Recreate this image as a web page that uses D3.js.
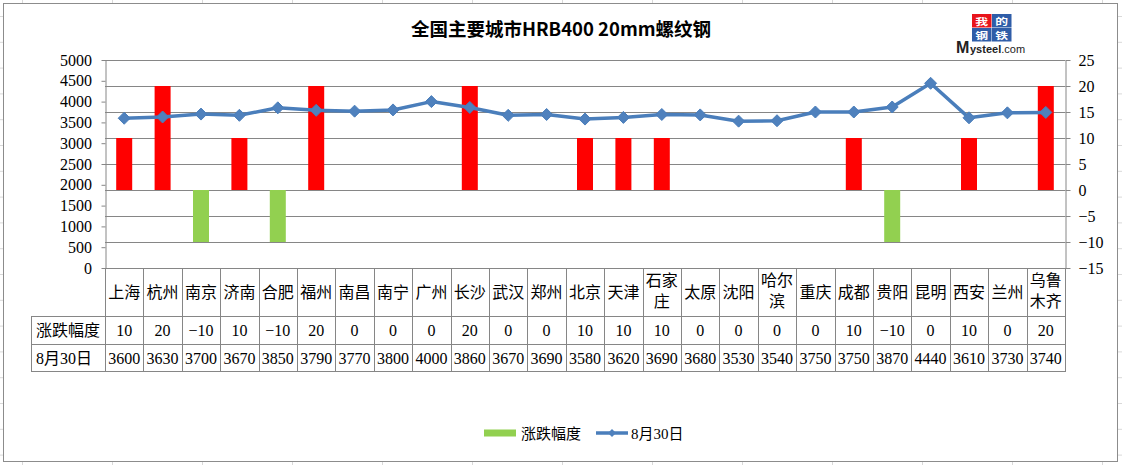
<!DOCTYPE html>
<html>
<head>
<meta charset="utf-8">
<script src="https://cdn.jsdelivr.net/npm/d3@7"></script>
<style>
  html, body { margin: 0; padding: 0; background: #fff; }
  svg { display: block; }
  .num { font-family: "Liberation Serif", "DejaVu Serif", serif; }
  .cjk { font-family: "Liberation Serif", "Noto Sans CJK SC", sans-serif; }
</style>
</head>
<body>
<svg id="chart" width="1122" height="465"></svg>
<script>
// ---- data ----
const cities = ["上海","杭州","南京","济南","合肥","福州","南昌","南宁","广州","长沙","武汉","郑州","北京","天津","石家庄","太原","沈阳","哈尔滨","重庆","成都","贵阳","昆明","西安","兰州","乌鲁木齐"];
const cityLines = [["上海"],["杭州"],["南京"],["济南"],["合肥"],["福州"],["南昌"],["南宁"],["广州"],["长沙"],["武汉"],["郑州"],["北京"],["天津"],["石家","庄"],["太原"],["沈阳"],["哈尔","滨"],["重庆"],["成都"],["贵阳"],["昆明"],["西安"],["兰州"],["乌鲁","木齐"]];
const changes = [10,20,-10,10,-10,20,0,0,0,20,0,0,10,10,10,0,0,0,0,10,-10,0,10,0,20];
const prices = [3600,3630,3700,3670,3850,3790,3770,3800,4000,3860,3670,3690,3580,3620,3690,3680,3530,3540,3750,3750,3870,4440,3610,3730,3740];
const leftTicks = [0,500,1000,1500,2000,2500,3000,3500,4000,4500,5000];
const rightTicks = [-15,-10,-5,0,5,10,15,20,25];
const title = "全国主要城市HRB400 20mm螺纹钢";
const seriesBar = "涨跌幅度";
const seriesLine = "8月30日";

// ---- layout ----
const svg = d3.select("#chart");
const L = 105, R = 1065, T = 60, B = 268;
const row1B = 316, row2B = 344, row3B = 371, tableLeft = 31;
const grid = "#868686";

// spreadsheet background lines outside chart
const bg = svg.append("g").attr("stroke", "#d9d9d9").attr("stroke-width", 1);
for (let gx = 22.5; gx < 1122; gx += 90) {
  bg.append("line").attr("x1", gx).attr("x2", gx).attr("y1", 0).attr("y2", 3);
  bg.append("line").attr("x1", gx).attr("x2", gx).attr("y1", 462).attr("y2", 465);
}
for (let gy = 16.5; gy < 465; gy += 25.8) {
  bg.append("line").attr("x1", 0).attr("x2", 3).attr("y1", gy).attr("y2", gy);
  bg.append("line").attr("x1", 1118).attr("x2", 1122).attr("y1", gy).attr("y2", gy);
}
svg.append("rect").attr("x", 3.5).attr("y", 3.5).attr("width", 1114).attr("height", 458)
  .attr("fill", "#fff").attr("stroke", "#8c8c8c").attr("stroke-width", 1);

const x = d3.scaleBand().domain(cities).range([L, R]).paddingInner(0).paddingOuter(0);
const yL = d3.scaleLinear().domain([0, 5000]).range([B, T]);
const yR = d3.scaleLinear().domain([-15, 25]).range([B, T]);

// gridlines (right axis ticks)
svg.append("g").selectAll("line").data(rightTicks).join("line")
  .attr("x1", L).attr("x2", R)
  .attr("y1", d => Math.round(yR(d)) + 0.5).attr("y2", d => Math.round(yR(d)) + 0.5)
  .attr("stroke", grid).attr("stroke-width", 1);

// left axis
const axL = svg.append("g").attr("transform", `translate(${L + 0.5},0)`)
  .call(d3.axisLeft(yL).tickValues(leftTicks).tickSize(4).tickSizeOuter(0).tickFormat(d3.format("d")));
axL.select(".domain").attr("stroke", grid);
axL.selectAll(".tick line").attr("stroke", grid);
axL.selectAll(".tick text").attr("class", "num").attr("font-size", 16).attr("fill", "#000").attr("x", -13.5);

// right axis
const axR = svg.append("g").attr("transform", `translate(${R + 0.5},0)`)
  .call(d3.axisRight(yR).tickValues(rightTicks).tickSize(5).tickSizeOuter(0));
axR.select(".domain").attr("stroke", grid);
axR.selectAll(".tick line").attr("stroke", grid);
axR.selectAll(".tick text").attr("class", "num").attr("font-size", 16).attr("fill", "#000").attr("x", 13);

// bars
const bw = 16;
svg.append("g").selectAll("rect").data(cities.map((c, i) => ({c, v: changes[i]})).filter(d => d.v !== 0)).join("rect")
  .attr("x", d => x(d.c) + x.bandwidth() / 2 - bw / 2)
  .attr("width", bw)
  .attr("y", d => Math.min(yR(0), yR(d.v)))
  .attr("height", d => Math.abs(yR(d.v) - yR(0)))
  .attr("fill", d => d.v > 0 ? "#FF0000" : "#92D050");

// line
const lineColor = "#4A7EBB";
const pts = cities.map((c, i) => [x(c) + x.bandwidth() / 2, yL(prices[i])]);
svg.append("path").attr("d", d3.line()(pts)).attr("fill", "none")
  .attr("stroke", lineColor).attr("stroke-width", 3.5).attr("stroke-linejoin", "round");
const dia = "M0,-6L6,0L0,6L-6,0Z";
svg.append("g").selectAll("path").data(pts).join("path")
  .attr("d", dia).attr("transform", d => `translate(${d[0]},${d[1]})`)
  .attr("fill", "#4F81BD").attr("stroke", lineColor).attr("stroke-width", 1);

// table
const tb = svg.append("g").attr("stroke", grid).attr("stroke-width", 1);
const bounds = cities.map(c => x(c)).concat([R]);
bounds.forEach(bx => {
  const xx = Math.round(bx) + 0.5;
  tb.append("line").attr("x1", xx).attr("x2", xx).attr("y1", B).attr("y2", row3B);
});
tb.append("line").attr("x1", tableLeft + 0.5).attr("x2", tableLeft + 0.5).attr("y1", row1B).attr("y2", row3B);
[row1B, row2B, row3B].forEach(yy => {
  tb.append("line").attr("x1", tableLeft).attr("x2", R + 1).attr("y1", yy + 0.5).attr("y2", yy + 0.5);
});

const tt = svg.append("g").attr("font-size", 16).attr("fill", "#000").attr("text-anchor", "middle");
cities.forEach((c, i) => {
  const cx = x(c) + x.bandwidth() / 2;
  const ls = cityLines[i];
  if (ls.length === 1) {
    tt.append("text").attr("class", "cjk").attr("x", cx).attr("y", (B + row1B) / 2 + 6).text(ls[0]);
  } else {
    tt.append("text").attr("class", "cjk").attr("x", cx).attr("y", B + 18).text(ls[0]);
    tt.append("text").attr("class", "cjk").attr("x", cx).attr("y", B + 39).text(ls[1]);
  }
  tt.append("text").attr("class", "num").attr("x", cx).attr("y", (row1B + row2B) / 2 + 6)
    .text(d3.format("d")(changes[i]).replace("-", "−"));
  tt.append("text").attr("class", "num").attr("x", cx).attr("y", (row2B + row3B) / 2 + 6)
    .text(prices[i]);
});
tt.append("text").attr("class", "cjk").attr("x", (tableLeft + L) / 2).attr("y", (row1B + row2B) / 2 + 6).text(seriesBar);
tt.append("text").attr("class", "cjk").attr("text-anchor", "start").attr("x", tableLeft + 5).attr("y", (row2B + row3B) / 2 + 6).text(seriesLine);

// title
svg.append("text").attr("x", 561).attr("y", 36).attr("text-anchor", "middle")
  .attr("font-family", "'Noto Sans CJK SC', sans-serif").attr("font-weight", "bold")
  .attr("font-size", 18.5).attr("fill", "#000").text(title);

// logo
const lg = svg.append("g").attr("transform", "translate(972,14)");
const cells = [["我", "#E8141B", 0, 0], ["的", "#2F5DA8", 20, 0], ["钢", "#2F5DA8", 0, 14], ["铁", "#2F5DA8", 20, 14]];
cells.forEach(([ch, col, cx, cy]) => {
  lg.append("rect").attr("x", cx).attr("y", cy).attr("width", 19.5).attr("height", 13.5).attr("fill", col);
  lg.append("text").attr("transform", `translate(${cx + 9.75},${cy + 10.5}) scale(1.35,1)`)
    .attr("text-anchor", "middle")
    .attr("font-family", "'Noto Sans CJK SC', sans-serif").attr("font-weight", "bold")
    .attr("font-size", 9.5).attr("fill", "#fff").text(ch);
});
svg.append("text").attr("x", 956).attr("y", 52.5).attr("font-family", "'Liberation Sans', Arial, sans-serif")
  .attr("font-weight", "bold").attr("font-size", 16).attr("fill", "#222").text("M");
const mt = svg.append("text").attr("x", 970).attr("y", 52.5).attr("font-family", "'Liberation Sans', Arial, sans-serif")
  .attr("font-weight", "bold").attr("font-size", 11).attr("fill", "#222");
mt.append("tspan").text("ysteel");
mt.append("tspan").attr("font-weight", "normal").text(".com");

// legend
svg.append("rect").attr("x", 484).attr("y", 429.5).attr("width", 32).attr("height", 7).attr("fill", "#92D050");
svg.append("text").attr("class", "cjk").attr("x", 521).attr("y", 439).attr("font-size", 15).attr("fill", "#000").text(seriesBar);
svg.append("line").attr("x1", 596).attr("x2", 628).attr("y1", 433).attr("y2", 433)
  .attr("stroke", lineColor).attr("stroke-width", 3.5);
svg.append("path").attr("d", "M0,-4L4,0L0,4L-4,0Z").attr("transform", "translate(612,433)").attr("fill", "#4F81BD");
svg.append("text").attr("class", "cjk").attr("x", 631).attr("y", 439).attr("font-size", 15).attr("fill", "#000").text(seriesLine);
</script>
</body>
</html>
